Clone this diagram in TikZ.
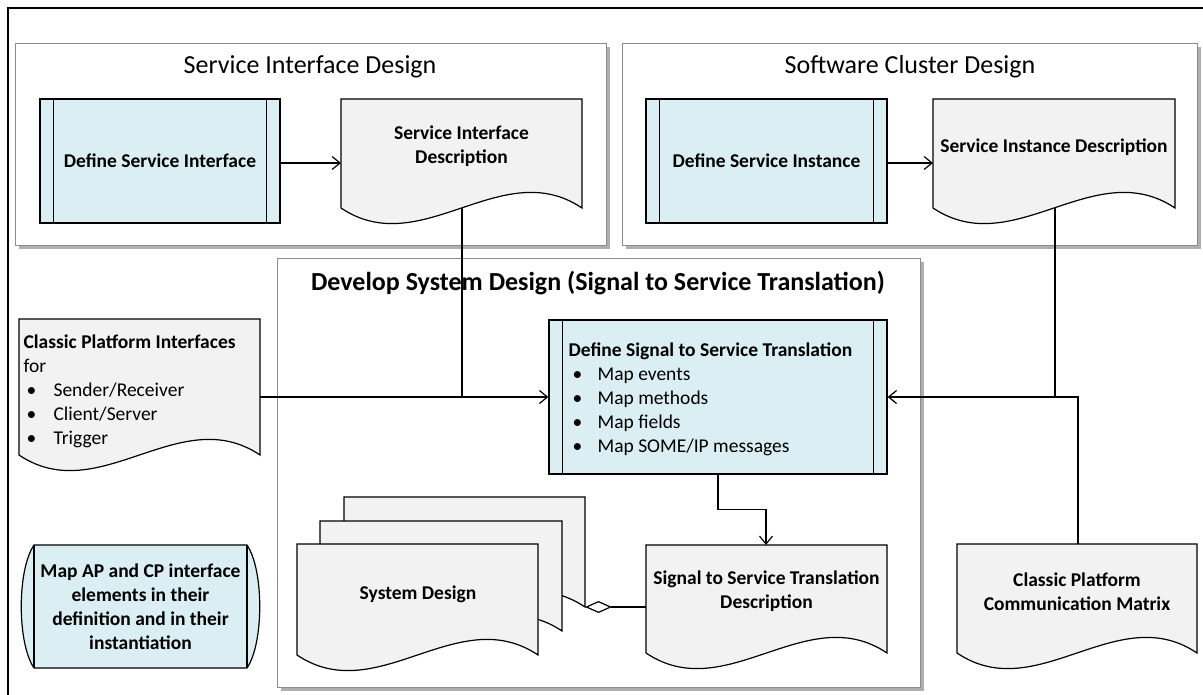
\documentclass[tikz,border=0pt]{standalone}
\usepackage{fontspec}
\setmainfont{Carlito}
\usetikzlibrary{arrows.meta,calc}
\definecolor{procblue}{RGB}{218,238,243}
\definecolor{docgray}{RGB}{242,242,242}
\definecolor{framegray}{RGB}{140,140,140}
\definecolor{shadowgray}{RGB}{175,175,175}
\newcommand\docshape[4]{%
  \filldraw[fill=docgray] (#1,#2) -- (#3,#2) -- (#3,#4)
    .. controls ({(#1)+((#3)-(#1))*2/3},{(#4)-54}) and ({(#1)+((#3)-(#1))/3},{(#4)+54}) .. (#1,#4) -- cycle;}
\newcommand\procbars[1]{%
  \draw ([xshift=14pt]#1.north west) -- ([xshift=14pt]#1.south west);
  \draw ([xshift=-14pt]#1.north east) -- ([xshift=-14pt]#1.south east);}
\begin{document}
\begin{tikzpicture}[x=1pt,y=-1pt,line width=1.2pt,
  every node/.style={font=\fontsize{19.5}{24}\selectfont, inner sep=0pt},
  bold/.style={font=\fontsize{19.5}{24}\selectfont\bfseries},
  titlefont/.style={font=\fontsize{26}{31}\selectfont},
  boldtitle/.style={font=\fontsize{26}{31}\selectfont\bfseries},
  container/.style={draw=framegray, fill=white, line width=1pt, anchor=north west},
  proc/.style={draw, fill=procblue, font=\fontsize{19.5}{24}\selectfont\bfseries},
  arr/.style={-{Straight Barb[length=8pt,width=13pt]}},
  agg/.style={{Diamond[open,length=27pt,width=12pt]}-}]
\clip (0,0) rectangle (1203,694);
\fill[white] (0,0) rectangle (1203,694);
% outer frame
\draw[line width=1.3pt] (8,720) -- (8,8) -- (1240,8);

% ---------- Service Interface Design ----------
\fill[shadowgray] (19,47) rectangle (610,249);
\node[container, minimum width=591, minimum height=202] (sidbox) at (15,43) {};
\node[titlefont] (sidtitle) at (310,67) {Service Interface Design};
\node[proc, minimum width=240, minimum height=124] (dsi) at (160,161) {Define Service Interface};
\procbars{dsi}
\docshape{341}{99}{582}{208}
\node[bold, align=center] (sidesc) at (461.5,146) {Service Interface\\Description};
\coordinate (sidesc-w) at (341,163);
\coordinate (sidesc-b) at (462,208);
\draw[arr] (dsi.east |- sidesc-w) -- (sidesc-w);

% ---------- Software Cluster Design ----------
\fill[shadowgray] (626,47) rectangle (1201,249);
\node[container, minimum width=575, minimum height=202] (scdbox) at (622,43) {};
\node[titlefont] (scdtitle) at (910,67) {Software Cluster Design};
\node[proc, minimum width=241, minimum height=124] (dsinst) at (766.5,161) {Define Service Instance};
\procbars{dsinst}
\docshape{933}{99}{1175}{208}
\node[bold] (sinstd) at (1054,147) {Service Instance Description};
\coordinate (sinstd-w) at (933,163);
\coordinate (sinstd-b) at (1055,208);
\draw[arr] (dsinst.east |- sinstd-w) -- (sinstd-w);

% ---------- Develop System Design ----------
\fill[shadowgray] (281,262) rectangle (924,691);
\node[container, minimum width=643, minimum height=429] (devbox) at (277,258) {};
\node[boldtitle] (devtitle) at (598,283) {Develop System Design (Signal to Service Translation)};

\node[proc, minimum width=338, minimum height=154] (dsst) at (718,397) {};
\procbars{dsst}
\node[bold, anchor=base west] (dsst-h) at (568,356) {Define Signal to Service Translation};
\foreach \t [count=\i] in {Map events, Map methods, Map fields, Map SOME/IP messages}
  \node[anchor=base west] (dsst-b\i) at (572,{356+24*\i}) {\makebox[25pt][l]{•}\t};

% System Design stack
\docshape{344}{497}{585}{607}
\docshape{320}{521}{562}{631}
\docshape{297}{544}{538}{655}
\node[bold] (sysdesign) at (418,594) {System Design};
\coordinate (sd-e) at (585,607);

% Signal to Service Translation Description
\docshape{646}{545}{887}{653}
\node[bold, align=center] (std) at (766.5,591) {Signal to Service Translation\\Description};
\coordinate (std-n) at (766,545);
\coordinate (std-w) at (646,607);

% ---------- outside elements ----------
\docshape{19}{319}{260}{455}
\node[bold, anchor=base west] (cpi-h) at (23,348) {Classic Platform Interfaces};
\node[anchor=base west] (cpi-for) at (23,372) {for};
\foreach \t [count=\i] in {Sender/Receiver, Client/Server, Trigger}
  \node[anchor=base west] (cpi-b\i) at (26,{372+24*\i}) {\makebox[27pt][l]{•}\t};
\coordinate (cpi-e) at (260,397);

\docshape{957}{544}{1197}{653}
\node[bold, align=center] (cpcm) at (1077,592) {Classic Platform\\Communication Matrix};
\coordinate (cpcm-n) at (1078,544);

\filldraw[fill=procblue] (34,545) -- (247,545) .. controls (264,570) and (264,643) .. (247,668)
  -- (34,668) .. controls (17,643) and (17,570) .. (34,545) -- cycle;
\draw (34,545) -- (34,668);
\draw (247,545) -- (247,668);
\node[bold, align=center] (mapap) at (140.5,607) {Map AP and CP interface\\elements in their\\definition and in their\\instantiation};

% ---------- connectors ----------
\draw[arr] (cpi-e) -- (cpi-e -| dsst.west);
\draw (sidesc-b) -- (sidesc-b |- cpi-e);
\draw[arr] (cpcm-n) |- (dsst.east);
\draw (sinstd-b) -- (sinstd-b |- dsst.east);
\draw[arr] (dsst.south) -- ++(0,35) -| (std-n);
\draw[agg] (sd-e) -- (std-w);
\end{tikzpicture}
\end{document}
